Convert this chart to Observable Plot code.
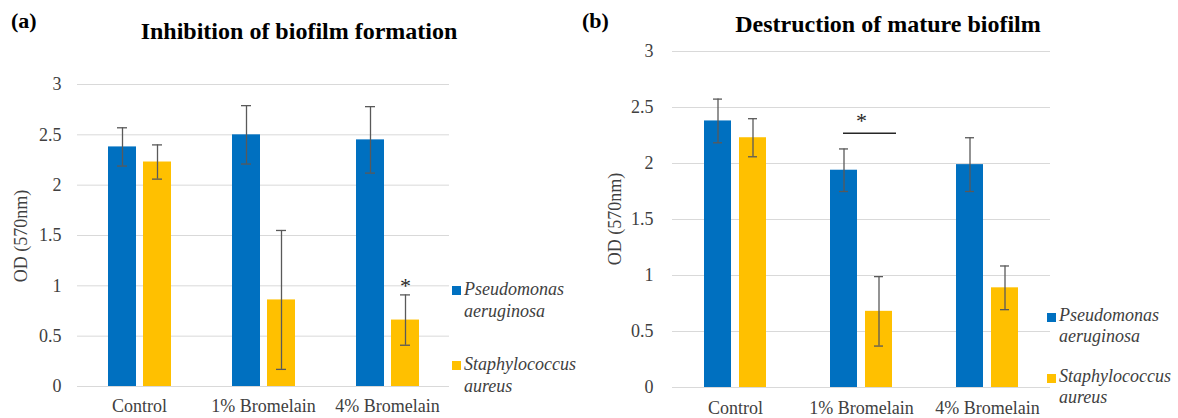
<!DOCTYPE html>
<html><head><meta charset="utf-8">
<script src="https://cdn.jsdelivr.net/npm/d3@7"></script>
<script src="https://cdn.jsdelivr.net/npm/@observablehq/plot@0.6"></script>
<style>
body{margin:0;background:#fff;}
#root{position:relative;width:1178px;height:418px;overflow:hidden;font-family:"Liberation Serif","Times New Roman",serif;color:#000;}
.panel{position:absolute;top:0;height:418px;}
.panel svg{position:absolute;left:0;top:0;}
.panel svg text{font-family:"Liberation Serif","Times New Roman",serif !important;}
.title{position:absolute;font-weight:bold;font-size:24px;line-height:24px;white-space:nowrap;transform:translateX(-50%);color:#000;}
.tag{position:absolute;font-weight:bold;font-size:22px;line-height:22px;color:#000;}
.ylab{position:absolute;font-size:18px;line-height:18px;color:#404040;white-space:nowrap;transform:translate(-50%,-50%) rotate(-90deg);}
.leg{position:absolute;font-size:18px;font-style:italic;color:#404040;white-space:nowrap;}
.leg .sw{position:absolute;width:9px;height:9px;}
</style>
</head><body>
<div id="root"></div>
<script>
// ---- data ----
const groups = ["Control", "1% Bromelain", "4% Bromelain"];
const seriesNames = ["Pseudomonas aeruginosa", "Staphylococcus aureus"];
const seriesColors = ["#0070C0", "#FFC000"];
const yTicks = [0, 0.5, 1, 1.5, 2, 2.5, 3];

// (a) Inhibition of biofilm formation
const inhibitionPseudomonas = [2.38, 2.50, 2.45];
const inhibitionPseudomonasErr = [0.19, 0.29, 0.33];
const inhibitionStaph = [2.23, 0.86, 0.66];
const inhibitionStaphErr = [0.17, 0.69, 0.25];

// (b) Destruction of mature biofilm
const destructionPseudomonas = [2.38, 1.94, 1.99];
const destructionPseudomonasErr = [0.195, 0.19, 0.24];
const destructionStaph = [2.23, 0.68, 0.89];
const destructionStaphErr = [0.17, 0.31, 0.195];

// significance marks
const starA = {group: "4% Bromelain", series: "Staphylococcus aureus", y: 1.0};
const starB = {group: "1% Bromelain", series: null, y: 2.38};
const bracketB = {group: "1% Bromelain", y: 2.27};

function buildRows(pVals, pErr, sVals, sErr, star, bracket) {
  const out = [];
  groups.forEach((g, i) => {
    [[pVals, pErr], [sVals, sErr]].forEach(([v, e], k) => {
      const isStar = star && star.group === g && (star.series ? star.series === seriesNames[k] : k === 0);
      const isBracket = bracket && bracket.group === g && k === 0;
      out.push({group: g, series: seriesNames[k], value: v[i], err: e[i],
        star: isStar ? star.y : null, bracket: isBracket ? bracket.y : null});
    });
  });
  return out;
}

const rowsA = buildRows(inhibitionPseudomonas, inhibitionPseudomonasErr, inhibitionStaph, inhibitionStaphErr, starA, null);
const rowsB = buildRows(destructionPseudomonas, destructionPseudomonasErr, destructionStaph, destructionStaphErr, starB, bracketB);

function chart(data, cfg) {
  const errStyle = {stroke: "#595959", strokeWidth: 1.3};
  return Plot.plot({
    width: cfg.width, height: 418,
    marginLeft: cfg.ml, marginRight: cfg.mr, marginTop: cfg.mt, marginBottom: cfg.mb,
    style: {fontFamily: '"Liberation Serif", "Times New Roman", serif', fontSize: "18px", color: "#404040", background: "transparent", overflow: "visible"},
    facet: {data, x: "group"},
    fx: {domain: groups, padding: 0, label: null, axis: "bottom", tickSize: 0, tickPadding: cfg.fxPad},
    x: {domain: seriesNames, axis: null, paddingInner: cfg.pi, paddingOuter: cfg.po},
    y: {domain: [0, 3], ticks: yTicks, tickFormat: d => String(d), tickSize: 0, tickPadding: cfg.yPad, label: null},
    color: {domain: seriesNames, range: seriesColors},
    marks: [
      Plot.ruleY(yTicks, {stroke: "#d9d9d9", strokeWidth: 1}),
      Plot.barY(data, {x: "series", y: "value", fill: "series"}),
      Plot.ruleX(data, {x: "series", y1: d => d.value - d.err, y2: d => d.value + d.err, ...errStyle}),
      Plot.tickY(data, {x: "series", y: d => d.value - d.err, inset: 9, ...errStyle}),
      Plot.tickY(data, {x: "series", y: d => d.value + d.err, inset: 9, ...errStyle}),
      Plot.text(data, {filter: d => d.star != null, x: cfg.starOnBar ? "series" : undefined, y: "star", text: () => "*", fontSize: 22, fill: "#262626"}),
      Plot.ruleY(data, {filter: d => d.bracket != null, y: "bracket", x1: () => seriesNames[0], x2: () => seriesNames[1], dx: 4, insetLeft: 9, stroke: "#262626", strokeWidth: 1.5})
    ]
  });
}

const root = document.getElementById("root");
function el(cls, parent, css, text) {
  const d = document.createElement("div");
  d.className = cls;
  Object.assign(d.style, css);
  if (text != null) d.textContent = text;
  parent.appendChild(d);
  return d;
}

function panel(cfg, data) {
  const p = el("panel", root, {left: cfg.left + "px", width: cfg.width + "px"});
  p.appendChild(chart(data, cfg));
  el("tag", p, {left: cfg.tagX + "px", top: cfg.tagTop + "px"}, cfg.tag);
  el("title", p, {left: cfg.titleX + "px", top: cfg.titleTop + "px"}, cfg.title);
  el("ylab", p, {left: cfg.ylabX + "px", top: cfg.ylabY + "px"}, "OD (570nm)");
  seriesNames.forEach((name, k) => {
    const lg = el("leg", p, {left: cfg.legX + "px", top: cfg.legTops[k] + "px", lineHeight: cfg.legLH + "px"});
    el("sw", lg, {left: "-12px", top: "8px", background: seriesColors[k]});
    const parts = name.split(" ");
    el("", lg, {}, parts[0]);
    el("", lg, {}, parts[1]);
  });
}

panel({left: 0, width: 590, ml: 76, mr: 141, mt: 84, mb: 32, pi: 0.214, po: 0.853, fxPad: 13, yPad: 16,
  starOnBar: true, tag: "(a)", tagX: 11, tagTop: 10, title: "Inhibition of biofilm formation", titleX: 299, titleTop: 19,
  ylabX: 21, ylabY: 236, legX: 464, legTops: [278, 353], legLH: 22}, rowsA);

panel({left: 590, width: 588, ml: 82, mr: 128, mt: 51, mb: 31, pi: 0.225, po: 0.882, fxPad: 14, yPad: 19,
  starOnBar: false, tag: "(b)", tagX: -8, tagTop: 10, title: "Destruction of mature biofilm", titleX: 298, titleTop: 12,
  ylabX: 24.5, ylabY: 219, legX: 469, legTops: [305, 366], legLH: 21}, rowsB);
</script>
</body></html>
